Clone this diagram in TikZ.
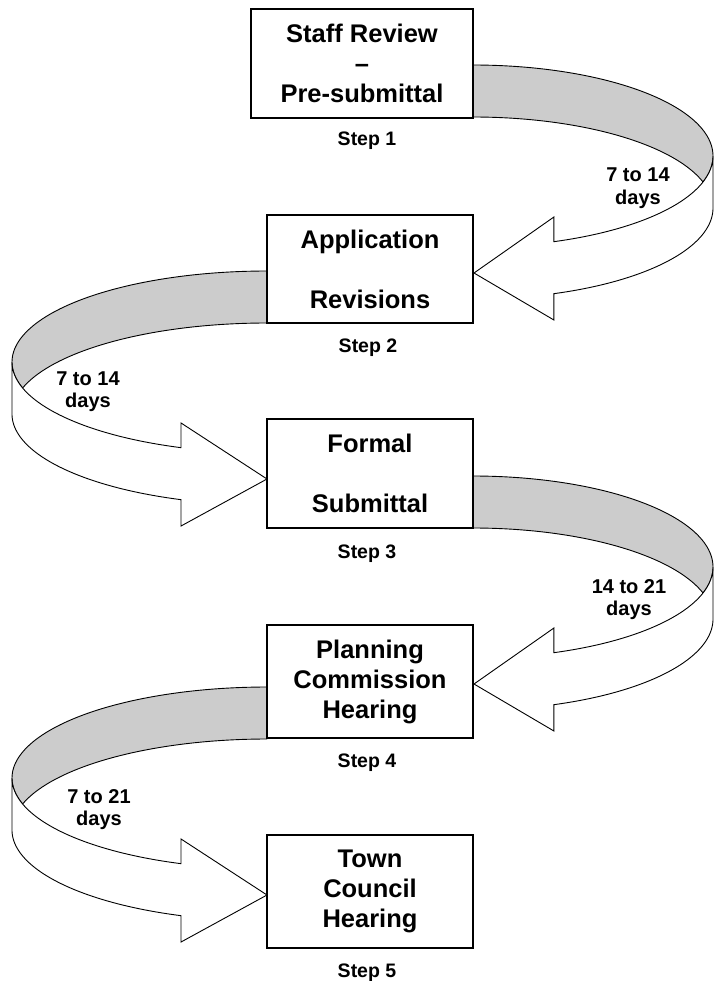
\documentclass[tikz,border=0pt]{standalone}
\usepackage{fontspec}
\setmainfont{Liberation Sans}
\definecolor{band}{HTML}{CCCCCC}
\tikzset{
  stepbox/.style={draw, line width=1.3pt, fill=white, inner sep=0pt, align=center,
    font=\fontsize{25.5}{30}\selectfont\bfseries},
  steplabel/.style={font=\fontsize{19.5}{22}\selectfont\bfseries, inner sep=0pt, anchor=base},
  dayslabel/.style={font=\fontsize{20}{22.5}\selectfont\bfseries, align=center, inner sep=0pt, anchor=base},
  ribbonback/.style={fill=band, draw=black, line width=0.9pt, line join=round},
  ribbonfront/.style={fill=white, draw=black, line width=0.9pt, line join=miter},
}
% #1 cx, #2 top y, #3 signed radius, #4 tip x
\newcommand{\myribbon}[4]{%
  \pgfmathsetmacro{\rbc}{#2+91}%
  \pgfmathsetmacro{\rbd}{#2+143}%
  \pgfmathsetmacro{\rbx}{#1+#3*cos(70.3)}%
  \pgfmathsetmacro{\rbfa}{#2+152}%
  \pgfmathsetmacro{\rbfb}{#2+255}%
  \pgfmathsetmacro{\rbtip}{#2+208}%
  \draw[ribbonback] plot[domain=90:-16.6, samples=70, variable=\t] ({#1+#3*cos(\t)},{\rbc-91*sin(\t)})
    -- plot[domain=16.6:90, samples=70, variable=\t] ({#1+#3*cos(\t)},{\rbd-91*sin(\t)}) -- cycle;
  \draw[ribbonfront] plot[domain=0:-70.3, samples=70, variable=\t] ({#1+#3*cos(\t)},{\rbc-91*sin(\t)})
    -- (\rbx,\rbfa) -- (#4,\rbtip) -- (\rbx,\rbfb)
    -- plot[domain=-70.3:0, samples=70, variable=\t] ({#1+#3*cos(\t)},{\rbd-91*sin(\t)}) -- cycle;
}
\begin{document}
\begin{tikzpicture}[x=1pt,y=-1pt]
  \useasboundingbox (0,0) rectangle (714,981);
  % ribbons
  \myribbon{473}{65}{240}{474}
  \myribbon{267}{271}{-255}{267}
  \myribbon{473}{476}{240}{474}
  \myribbon{267}{687}{-255}{267}
  % boxes
  \node[stepbox, minimum width=222pt, minimum height=109pt] (s1) at (362,63.5)
    {Staff Review\\–\\Pre-submittal\hspace{16pt}};
  \node[stepbox, minimum width=206pt, minimum height=108pt] (s2) at (370,269)
    {Application\\[30pt]Revisions};
  \node[stepbox, minimum width=206pt, minimum height=109pt] (s3) at (370,473.5)
    {Formal\\[30pt]Submittal};
  \node[stepbox, minimum width=206pt, minimum height=113pt] (s4) at (370,681.5)
    {Planning\\Commission\\Hearing};
  \node[stepbox, minimum width=206pt, minimum height=113pt] (s5) at (370,891.5)
    {Town\\Council\\Hearing};
  % step labels
  \node[steplabel] (l1) at (367,146) {Step 1};
  \node[steplabel] (l2) at (368,352) {Step 2};
  \node[steplabel] (l3) at (367,558) {Step 3};
  \node[steplabel] (l4) at (367,767) {Step 4};
  \node[steplabel] (l5) at (367,977) {Step 5};
  % durations (base anchor = last line)
  \node[dayslabel] (d1) at (638,204.5) {7 to 14\\days};
  \node[dayslabel] (d2) at (88,407.5) {7 to 14\\days};
  \node[dayslabel] (d3) at (629,615.5) {14 to 21\\days};
  \node[dayslabel] (d4) at (99,825.5) {7 to 21\\days};
\end{tikzpicture}
\end{document}
